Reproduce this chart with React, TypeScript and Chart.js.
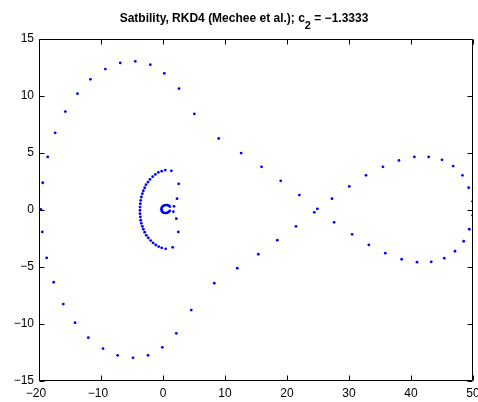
import React, { useEffect, useRef } from 'react';
import { Chart, registerables } from 'chart.js';

Chart.register(...registerables);

// Axis ticks
const xTicks = [-20, -10, 0, 10, 20, 30, 40, 50];
const yTicks = [-15, -10, -5, 0, 5, 10, 15];

// Title parts
const titleMain = 'Satbility, RKD4 (Mechee et al.); c';
const titleSub = '2';
const titleTail = ' = \u22121.3333';

// Outer stability boundary (figure-eight) points
const outerX = [
  -19.7, -19.4, -18.6, -17.4, -15.75, -13.8, -11.7, -9.3, -6.9, -4.47, -2.05, 0.21, 2.58, 5.05,
  8.98, 12.6, 15.9, 18.98, 21.99, 24.9,
  27.26, 30.05, 32.74, 35.48, 38.06, 40.54, 42.85, 45.0, 46.8, 48.3, 49.3, 49.95,
  49.95, 49.4, 48.5, 47.1, 45.37, 43.27, 40.97, 38.5, 35.86, 33.2, 30.5, 27.6, 24.4,
  21.45, 18.44, 15.37, 11.98, 8.27, 4.56, 2.15, -0.11, -2.42, -4.84, -7.31, -9.68, -12.05,
  -14.19, -16.08, -17.63, -18.76, -19.47,
];
const outerY = [
  0.06, 2.39, 4.66, 6.77, 8.63, 10.2, 11.46, 12.36, 12.9, 13.04, 12.75, 11.99, 10.65, 8.43,
  6.27, 4.99, 3.79, 2.56, 1.31, 0.09,
  0.99, 2.07, 3.04, 3.79, 4.35, 4.66, 4.66, 4.4, 3.85, 3.04, 1.95, 0.76,
  -0.47, -1.69, -2.74, -3.62, -4.23, -4.55, -4.58, -4.32, -3.79, -3.06, -2.13, -1.08, -0.2,
  -1.43, -2.65, -3.88, -5.1, -6.42, -8.78, -10.82, -12.05, -12.75, -12.97, -12.75, -12.16, -11.2,
  -9.89, -8.25, -6.33, -4.2, -1.92,
];

// Inner arc points
const innerX = [
  1.34, 0.38, -0.21, -0.75, -1.24, -1.67, -2.1, -2.42, -2.74, -2.96, -3.17, -3.33, -3.49, -3.6,
  -3.66, -3.71, -3.71, -3.71, -3.66, -3.6, -3.49, -3.33, -3.17, -2.96, -2.69, -2.37, -1.99,
  -1.61, -1.18, -0.7, -0.21, 0.43, 1.56,
  2.53, 2.26, 1.77, 1.67, 2.15, 2.47,
];
const innerY = [
  3.44, 3.5, 3.41, 3.3, 3.12, 2.92, 2.68, 2.45, 2.22, 1.95, 1.69, 1.43, 1.14, 0.85,
  0.55, 0.26, -0.03, -0.32, -0.61, -0.9, -1.17, -1.43, -1.69, -1.95, -2.22, -2.45, -2.68,
  -2.89, -3.06, -3.21, -3.32, -3.41, -3.27,
  2.3, 0.99, 0.32, -0.15, -0.76, -1.92,
];

// Small core loop near the origin
const coreX = [
  1.1, 0.95, 0.72, 0.45, 0.18, -0.05, -0.2, -0.26, -0.2, -0.05, 0.18, 0.45, 0.72, 0.95, 1.1,
];
const coreY = [
  0.3, 0.38, 0.42, 0.43, 0.4, 0.32, 0.2, 0.06, -0.08, -0.19, -0.25, -0.27, -0.24, -0.16, -0.07,
];

const toPoints = (xs: number[], ys: number[]) => xs.map((x, i) => ({ x, y: ys[i] }));

const fmtY = (v: number) => (v < 0 ? '\u2212' + Math.abs(v) : String(v));
const fmtX = (v: number) => (v < 0 ? '\u2212' + Math.abs(v) + '\u2002' : String(v));

const framePlugin = {
  id: 'matlabFrame',
  afterDraw(chart: any) {
    const ctx = chart.ctx;
    const { left, top, right, bottom } = chart.chartArea;
    const xs = chart.scales.x;
    const ys = chart.scales.y;
    ctx.save();
    ctx.strokeStyle = '#000';
    ctx.lineWidth = 1;
    const L = Math.round(left) + 0.5;
    const R = Math.round(right) - 0.5;
    const T = Math.round(top) + 0.5;
    const B = Math.round(bottom) - 0.5;
    ctx.beginPath();
    ctx.rect(L, T, R - L, B - T);
    const tl = 5;
    xTicks.forEach((v) => {
      const px = Math.round(xs.getPixelForValue(v)) + 0.5;
      ctx.moveTo(px, B);
      ctx.lineTo(px, B - tl);
      ctx.moveTo(px, T);
      ctx.lineTo(px, T + tl);
    });
    yTicks.forEach((v) => {
      const py = Math.round(ys.getPixelForValue(v)) + 0.5;
      ctx.moveTo(L, py);
      ctx.lineTo(L + tl, py);
      ctx.moveTo(R, py);
      ctx.lineTo(R - tl, py);
    });
    ctx.stroke();

    // Title with subscript
    const mainFont = 'bold 12px "Liberation Sans", Arial, sans-serif';
    const subFont = 'bold 11px "Liberation Sans", Arial, sans-serif';
    ctx.fillStyle = '#000';
    ctx.textBaseline = 'alphabetic';
    ctx.textAlign = 'left';
    ctx.font = mainFont;
    const w1 = ctx.measureText(titleMain).width;
    const w3 = ctx.measureText(titleTail).width;
    ctx.font = subFont;
    const w2 = ctx.measureText(titleSub).width;
    const total = w1 + w2 + w3;
    const cx = 244;
    const x0 = cx - total / 2;
    const baseY = 22;
    ctx.font = mainFont;
    ctx.fillText(titleMain, x0, baseY);
    ctx.font = subFont;
    ctx.fillText(titleSub, x0 + w1, baseY + 7);
    ctx.font = mainFont;
    ctx.fillText(titleTail, x0 + w1 + w2, baseY);
    ctx.restore();
  },
};

export default function App() {
  const canvasRef = useRef<HTMLCanvasElement | null>(null);

  useEffect(() => {
    document.body.style.margin = '0';
    const canvas = canvasRef.current;
    if (!canvas) return;
    const pointStyle = {
      showLine: false,
      pointRadius: 1.4,
      pointBorderWidth: 0,
      pointBackgroundColor: '#0000ff',
      pointBorderColor: '#0000ff',
      backgroundColor: '#0000ff',
      borderColor: '#0000ff',
    };
    const tickFont = { family: '"Liberation Sans", Arial, sans-serif', size: 12 };
    const chart = new Chart(canvas, {
      type: 'scatter',
      data: {
        datasets: [
          { label: 'outer', data: toPoints(outerX, outerY), ...pointStyle },
          { label: 'inner', data: toPoints(innerX, innerY), ...pointStyle },
          { label: 'core', data: toPoints(coreX, coreY), ...pointStyle },
        ],
      },
      options: {
        animation: false,
        responsive: false,
        maintainAspectRatio: false,
        devicePixelRatio: 1,
        layout: { padding: { top: 39, right: 5, left: 0, bottom: 0 } },
        plugins: {
          legend: { display: false },
          title: { display: false },
          tooltip: { enabled: false },
        },
        scales: {
          x: {
            type: 'linear',
            min: -20,
            max: 50,
            grid: { display: false, drawTicks: false },
            border: { display: false },
            afterBuildTicks: (scale: any) => {
              scale.ticks = xTicks.map((v) => ({ value: v }));
            },
            afterFit: (scale: any) => {
              scale.height = 21;
              scale.paddingLeft = 0;
              scale.paddingRight = 0;
            },
            ticks: {
              font: tickFont,
              color: '#000',
              padding: 5,
              maxRotation: 0,
              autoSkip: false,
              callback: (v: any) => fmtX(Number(v)),
            },
          },
          y: {
            type: 'linear',
            min: -15,
            max: 15,
            grid: { display: false, drawTicks: false },
            border: { display: false },
            afterBuildTicks: (scale: any) => {
              scale.ticks = yTicks.map((v) => ({ value: v }));
            },
            afterFit: (scale: any) => {
              scale.width = 39;
              scale.paddingTop = 0;
              scale.paddingBottom = 0;
            },
            ticks: {
              font: tickFont,
              color: '#000',
              padding: 5,
              autoSkip: false,
              callback: (v: any) => fmtY(Number(v)),
            },
          },
        },
      },
      plugins: [framePlugin],
    });
    return () => chart.destroy();
  }, []);

  return (
    <div style={{ width: 478, height: 402, background: '#fff' }}>
      <canvas ref={canvasRef} width={478} height={402} style={{ display: 'block' }} />
    </div>
  );
}
